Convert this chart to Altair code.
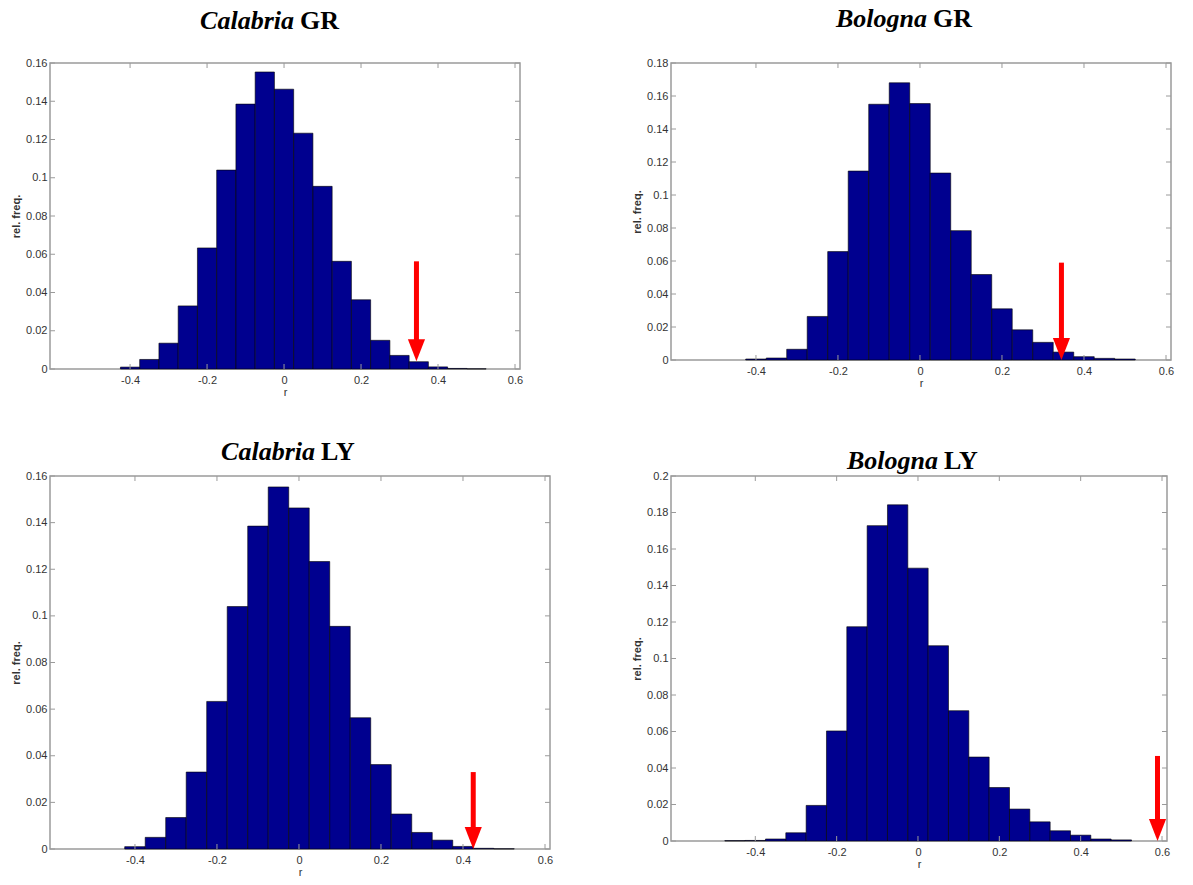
import altair as alt
import pandas as pd

# Randomisation distributions of the correlation coefficient r (bin width 0.05)
calabria_gr_centers = [-0.40, -0.35, -0.30, -0.25, -0.20, -0.15, -0.10, -0.05, 0.00, 0.05,
                       0.10, 0.15, 0.20, 0.25, 0.30, 0.35, 0.40, 0.45, 0.50]
calabria_gr_freq = [0.0010, 0.0050, 0.0135, 0.0330, 0.0633, 0.1040, 0.1385, 0.1553, 0.1463, 0.1233,
                    0.0955, 0.0563, 0.0362, 0.0150, 0.0071, 0.0038, 0.0011, 0.0003, 0.0001]

bologna_gr_centers = [-0.40, -0.35, -0.30, -0.25, -0.20, -0.15, -0.10, -0.05, 0.00, 0.05,
                      0.10, 0.15, 0.20, 0.25, 0.30, 0.35, 0.40, 0.45, 0.50]
bologna_gr_freq = [0.0006, 0.0012, 0.0065, 0.0264, 0.0657, 0.1145, 0.1550, 0.1680, 0.1554, 0.1133,
                   0.0784, 0.0518, 0.0310, 0.0183, 0.0107, 0.0048, 0.0020, 0.0010, 0.0006]

calabria_ly_centers = [-0.40, -0.35, -0.30, -0.25, -0.20, -0.15, -0.10, -0.05, 0.00, 0.05,
                       0.10, 0.15, 0.20, 0.25, 0.30, 0.35, 0.40, 0.45, 0.50]
calabria_ly_freq = [0.0010, 0.0050, 0.0135, 0.0330, 0.0633, 0.1040, 0.1385, 0.1553, 0.1463, 0.1233,
                    0.0955, 0.0563, 0.0362, 0.0150, 0.0071, 0.0038, 0.0011, 0.0003, 0.0001]

bologna_ly_centers = [-0.45, -0.40, -0.35, -0.30, -0.25, -0.20, -0.15, -0.10, -0.05, 0.00,
                      0.05, 0.10, 0.15, 0.20, 0.25, 0.30, 0.35, 0.40, 0.45, 0.50]
bologna_ly_freq = [0.0002, 0.0003, 0.0011, 0.0045, 0.0195, 0.0603, 0.1174, 0.1728, 0.1842, 0.1495,
                   0.1070, 0.0714, 0.0460, 0.0293, 0.0175, 0.0105, 0.0056, 0.0032, 0.0011, 0.0006]

# Observed r (arrow position), arrow top and tip on the frequency axis
calabria_gr_arrow = [0.344, 0.0563, 0.004]
bologna_gr_arrow = [0.345, 0.0590, 0.0]
calabria_ly_arrow = [0.425, 0.0330, 0.0]
bologna_ly_arrow = [0.589, 0.0466, 0.0]

x_ticks = [-0.4, -0.2, 0.0, 0.2, 0.4, 0.6]
y_ticks_16 = [0.0, 0.02, 0.04, 0.06, 0.08, 0.10, 0.12, 0.14, 0.16]
y_ticks_18 = [0.0, 0.02, 0.04, 0.06, 0.08, 0.10, 0.12, 0.14, 0.16, 0.18]
y_ticks_20 = [0.0, 0.02, 0.04, 0.06, 0.08, 0.10, 0.12, 0.14, 0.16, 0.18, 0.20]

BIN_HALF = 0.025
BAR_COLOR = "#00008f"
FRAME = "#9a9a9a"
SANS = "Liberation Sans Narrow, Liberation Sans, sans-serif"
SERIF = "Liberation Serif"
HEAD = "M-0.78,-2L0.78,-2L0,0Z"
LABEL_EXPR = "toString(round(datum.value * 100) / 100)"


def panel(centers, freqs, ymax, y_ticks, arrow, word, tag, w, h, title_x, title_y):
    bars = pd.DataFrame({
        "r": [c - BIN_HALF for c in centers],
        "r_end": [c + BIN_HALF for c in centers],
        "freq": freqs,
        "base": [0.0] * len(centers),
    })
    xscale = alt.Scale(domain=[-0.595, 0.6], nice=False, zero=False)
    yscale = alt.Scale(domain=[0, ymax], nice=False, zero=True)
    x_axis = alt.Axis(values=x_ticks, tickCount=len(x_ticks) + 4, labelExpr=LABEL_EXPR,
                      ticks=False, domain=False, grid=False, labelPadding=5,
                      titlePadding=1, labelOverlap=False)
    y_axis = alt.Axis(values=y_ticks, tickCount=len(y_ticks) + 4, labelExpr=LABEL_EXPR,
                      ticks=False, domain=False, grid=False, labelPadding=3,
                      titlePadding=4, labelOverlap=False)

    bar_layer = alt.Chart(bars).mark_bar(
        color=BAR_COLOR, stroke="black", strokeWidth=0.6, orient="vertical"
    ).encode(
        x=alt.X("r:Q", scale=xscale, axis=x_axis, title="r"),
        x2="r_end:Q",
        y=alt.Y("freq:Q", scale=yscale, axis=y_axis, title="rel. freq."),
        y2="base:Q",
    )

    # inward tick marks on all four sides of the box
    xt = pd.DataFrame({"r": x_ticks})
    yt = pd.DataFrame({"freq": y_ticks})
    tick_style = dict(color=FRAME, strokeWidth=1)
    ticks = [
        alt.Chart(xt).mark_rule(**tick_style).encode(
            x=alt.X("r:Q", title="r"), y=alt.value(h - 5), y2=alt.value(h)),
        alt.Chart(xt).mark_rule(**tick_style).encode(
            x=alt.X("r:Q", title="r"), y=alt.value(0), y2=alt.value(5)),
        alt.Chart(yt).mark_rule(**tick_style).encode(
            y=alt.Y("freq:Q", title="rel. freq."), x=alt.value(0), x2=alt.value(5)),
        alt.Chart(yt).mark_rule(**tick_style).encode(
            y=alt.Y("freq:Q", title="rel. freq."), x=alt.value(w - 5), x2=alt.value(w)),
    ]

    arr = pd.DataFrame({"r": [arrow[0]], "top": [arrow[1]], "tip": [arrow[2]]})
    shaft = alt.Chart(arr).mark_rule(color="#ff0000", strokeWidth=5, y2Offset=-14).encode(
        x=alt.X("r:Q", title="r"),
        y=alt.Y("top:Q", title="rel. freq."),
        y2="tip:Q",
    )
    head = alt.Chart(arr).mark_point(
        shape=HEAD, size=484, filled=True, color="#ff0000", opacity=1, strokeWidth=0
    ).encode(
        x=alt.X("r:Q", title="r"),
        y=alt.Y("tip:Q", title="rel. freq."),
    )

    title_word = alt.Chart(pd.DataFrame({"t": [word]})).mark_text(
        font=SERIF, fontSize=26, fontWeight="bold", fontStyle="italic",
        align="right", baseline="alphabetic", color="black"
    ).encode(x=alt.value(title_x), y=alt.value(title_y), text="t:N")
    title_tag = alt.Chart(pd.DataFrame({"t": [tag]})).mark_text(
        font=SERIF, fontSize=26, fontWeight="bold",
        align="left", baseline="alphabetic", color="black"
    ).encode(x=alt.value(title_x + 6), y=alt.value(title_y), text="t:N")

    return alt.layer(bar_layer, *ticks, shaft, head, title_word, title_tag).properties(
        width=w, height=h)


p1 = panel(calabria_gr_centers, calabria_gr_freq, 0.16, y_ticks_16, calabria_gr_arrow,
           "Calabria", "GR", 470, 306, 244, -34)
p2 = panel(bologna_gr_centers, bologna_gr_freq, 0.18, y_ticks_18, bologna_gr_arrow,
           "Bologna", "GR", 500, 297, 256, -36)
p3 = panel(calabria_ly_centers, calabria_ly_freq, 0.16, y_ticks_16, calabria_ly_arrow,
           "Calabria", "LY", 500, 373, 265, -16)
p4 = panel(bologna_ly_centers, bologna_ly_freq, 0.20, y_ticks_20, bologna_ly_arrow,
           "Bologna", "LY", 496, 365, 267, -7)

chart = alt.concat(
    p1, p2, p3, p4, columns=2, bounds="flush",
    spacing={"row": 107, "column": 121},
).properties(
    padding={"left": 9, "top": 5, "right": 5, "bottom": 5},
    background="white",
).configure_view(
    stroke=FRAME, strokeWidth=1.5
).configure_axis(
    labelFont=SANS, labelFontSize=11, labelColor="#333333",
    titleFont=SANS, titleFontSize=11, titleColor="#333333", titleFontWeight="normal",
).configure_axisY(
    titleFontWeight="bold"
)

chart.save("out.html", embed_options={"renderer": "svg", "actions": False})
